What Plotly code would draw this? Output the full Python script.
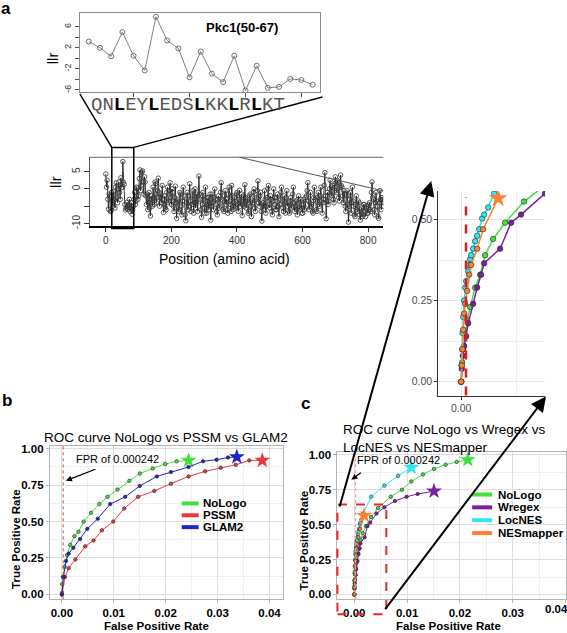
import plotly.graph_objects as go

W, H = 567, 633
FONT = "Liberation Sans, Arial, sans-serif"


def px(x):
    return x / W


def py(y):
    return 1 - y / H


# ---------------- data ----------------
# panel a inset: Pkc1 residues
inset_residues = list(range(46, 67))
inset_llr = [3.2, 2.0, 0.4, 5.0, 0.5, -2.3, 7.9, 3.4, 1.9, -3.6, 1.3,
             -2.9, -4.5, 0.5, -6.1, -1.4, -5.6, -5.4, -3.9, -4.1, -5.0]
sequence_letters = "QNLEYLEDSLKKLRLKT"
inset_xticks = [50, 55, 60, 65]
inset_yticks = [-6, -4, -2, 0, 2, 4, 6]
inset_yticktext = ["-6", "", "-2", "", "2", "", "6"]

# panel a main: llr along the protein (sampled every 2 aa)
main_positions = list(range(0, 848, 2))
main_llr = [
    4.3, 0.5, 2.5, -3.0, -5.8, -1.5, -2.0, -6.5, -6.3, -1.0, -3.5, -5.0, -0.8, -3.0, -5.5, 0.5, 1.8, -2.5, -4.0, 0.0,
    2.0, -1.0, -3.0, 3.2, 0.4, 0.5, 7.9, 1.9, 1.3, -4.5, -6.1, -5.6, -3.9, -5.0, -6.0, -4.5, -3.0, -6.5, -5.5, -4.0,
    -7.3, -6.0, -5.0, -3.0, -1.0, -4.5, -3.5, 0.5, 0.2, -3.0, -2.0, 3.0, 5.5, -0.5, 1.0, 4.8, 5.2, 2.0, -1.5, 3.5,
    2.0, -2.0, -4.5, -1.5, -6.0, -4.0, -1.0, -5.5, -7.8, -2.0, -3.0, -5.0, 0.5, -2.5, -4.5, 2.0, 1.5, -4.0, -2.5, -0.5,
    3.1, -1.0, -5.0, -2.5, -1.5, -4.0, 1.0, -3.0, -6.8, -4.5, -2.0, -5.5, -6.0, -1.0, 0.5, -4.0, -3.5, -0.5, 1.8, -2.5,
    -4.5, 0.0, -1.0, -5.0, -6.5, -2.5, 0.8, -4.0, -8.5, -3.5, -3.0, -6.5, -6.0, -1.0, -1.5, -5.0, -7.5, -3.5, 0.5, -2.0,
    -3.5, -7.5, -9.2, -4.0, -1.0, -6.0, -5.0, -2.0, 1.5, -3.5, -6.5, -4.5, -2.0, -0.5, -7.0, -4.0, 0.0, -5.5, -4.0, -1.5,
    -6.5, -2.0, 3.7, -1.5, -3.0, -6.0, -8.2, -4.5, -1.0, -3.0, -5.5, -7.0, 0.5, -2.5, -7.0, -4.5, -2.5, -6.0, -4.0, -1.5,
    -9.0, -5.0, -1.5, -4.0, -6.0, -2.5, 0.0, -3.0, -4.5, -6.5, -7.5, -3.0, -2.0, -5.5, -5.0, -1.0, 1.8, -3.0, -3.5, -6.0,
    -6.5, -2.0, -0.5, -4.5, -3.0, -6.0, -7.0, -1.5, 0.5, -3.5, -4.5, -6.5, 1.0, -2.0, -6.0, -4.0, -2.5, -5.5, -5.0, -1.5,
    -1.0, -4.5, -6.5, -3.0, -0.4, -5.0, -3.5, -1.5, -7.7, -4.5, -2.0, -5.0, 1.2, -2.5, -5.5, -3.5, -3.0, -7.0, -6.5, -2.0,
    -1.5, -5.0, -8.0, -3.5, -4.0, -1.0, 0.0, -5.5, -6.5, -3.0, -2.5, -0.5, 2.3, -4.0, -5.0, -2.0, -1.0, -6.5, -9.3, -4.5,
    -4.0, -6.0, -0.5, -3.0, -7.0, -5.0, -2.5, 0.0, 1.0, -4.5, -5.5, -2.0, -3.0, -6.5, -7.5, -3.5, 0.0, -2.5, -4.5, -6.0,
    -6.0, -2.5, -1.5, -5.0, -8.0, -4.5, -3.0, -1.0, 0.5, -3.5, -5.5, -6.5, -2.0, -4.0, -7.0, -2.5, -0.5, -5.0, -4.0, -6.5,
    -7.0, -3.5, -2.5, -5.5, -5.0, -1.5, 0.5, -4.0, -6.5, -5.0, -3.5, -6.0, -7.5, -3.0, -2.0, -5.5, -6.0, -3.0, -4.5, -7.0,
    -7.0, -4.5, -3.0, -6.0, -5.5, -2.5, -2.0, -0.5, 1.8, -3.5, -6.0, -4.0, -1.0, -5.0, -4.5, -6.5, -7.0, -2.5, 0.5, -3.0,
    -3.5, -6.0, -6.5, -2.5, -1.0, -4.5, -5.0, -2.0, 0.5, -3.5, -7.0, -4.0, -3.0, 1.0, 4.7, -2.0, -8.6, -3.5, -1.0, -4.5,
    -3.5, 0.0, 2.5, -1.5, -2.0, 0.5, 1.0, -3.0, -4.0, 1.5, 3.5, -0.5, -1.0, 2.5, 2.0, -2.5, -3.5, 0.5, 4.0, 1.0,
    0.5, -2.0, -4.0, -0.5, -1.5, -5.0, -6.5, -2.0, -0.5, -4.5, -9.6, -5.0, -3.0, -1.0, -7.0, -4.0, 0.5, -3.5, -5.0, -7.5,
    -8.0, -4.5, -2.0, -6.0, -6.5, -3.5, -4.0, -7.5, -9.0, -6.0, -5.5, -8.0, -7.5, -4.5, -4.5, -6.5, -8.0, -5.5, -5.0, -7.0,
    -7.0, -4.5, -4.0, -6.0, -6.5, -1.0, 2.0, -2.5, -3.0, -6.0, -7.5, -4.0, -1.0, -3.5, -5.0, -8.0, -8.5, -4.0, -0.5, -3.0,
    -6.0, -2.5, -3.0, -5.0,
]
main_xticks = [0, 200, 400, 600, 800]
main_yticks = [-10, -5, 0, 5]
main_yticktext = ["-10", "", "0", "5"]

# panel b ROC curves
nologo_b_fpr = [0, 0.00005, 0.0002, 0.0005, 0.001, 0.0016, 0.0024, 0.0032, 0.0042, 0.0056,
                0.0072, 0.0088, 0.0107, 0.013, 0.015, 0.0175, 0.0199, 0.0221, 0.0244]
nologo_b_tpr = [0.01, 0.07, 0.12, 0.19, 0.27, 0.34, 0.40, 0.43, 0.50, 0.56,
                0.62, 0.67, 0.72, 0.78, 0.83, 0.865, 0.895, 0.914, 0.92]
pssm_b_fpr = [0, 0.0006, 0.0013, 0.0026, 0.0045, 0.0061, 0.0077, 0.0099, 0.012, 0.0147,
              0.0178, 0.021, 0.0244, 0.0276, 0.0306, 0.0335, 0.0361, 0.0386]
pssm_b_tpr = [0, 0.12, 0.18, 0.24, 0.33, 0.37, 0.44, 0.50, 0.59, 0.67,
              0.71, 0.76, 0.81, 0.845, 0.87, 0.89, 0.92, 0.92]
glam2_b_fpr = [0, 0.0003, 0.0008, 0.0013, 0.0022, 0.0035, 0.0049, 0.0069, 0.0093, 0.0122,
               0.015, 0.0183, 0.021, 0.0244, 0.0272, 0.0298, 0.032, 0.0337]
glam2_b_tpr = [0, 0.12, 0.23, 0.28, 0.32, 0.38, 0.45, 0.52, 0.62, 0.67,
               0.745, 0.81, 0.84, 0.875, 0.914, 0.925, 0.94, 0.944]

# panel c ROC curves (also used for the zoomed view)
nologo_c_fpr = [0, 0.00005, 0.0001, 0.0002, 0.0003, 0.00045, 0.0007, 0.00095, 0.0012, 0.0016,
                0.0022, 0.00315, 0.0045, 0.0069, 0.009, 0.0108, 0.013, 0.0151, 0.0173, 0.0194, 0.0215]
nologo_c_tpr = [0, 0.06, 0.10, 0.14, 0.19, 0.23, 0.29, 0.33, 0.39, 0.44,
                0.49, 0.555, 0.62, 0.70, 0.75, 0.81, 0.86, 0.90, 0.93, 0.95, 0.965]
wregex_c_fpr = [0, 0.00003, 0.00008, 0.00015, 0.00025, 0.00035, 0.0006, 0.0008, 0.001, 0.00115,
                0.00195, 0.0025, 0.003, 0.0042, 0.0057, 0.0077, 0.0099, 0.012, 0.0151]
wregex_c_tpr = [0, 0.04, 0.08, 0.11, 0.14, 0.18, 0.24, 0.29, 0.33, 0.365,
                0.41, 0.49, 0.515, 0.58, 0.625, 0.67, 0.70, 0.72, 0.74]
locnes_c_fpr = [0, 0.00002, 0.00005, 0.00007, 0.0001, 0.00015, 0.0002, 0.00025, 0.00035, 0.0004,
                0.00045, 0.0005, 0.0006, 0.0007, 0.0008, 0.0009, 0.00105, 0.00115, 0.00135, 0.00165,
                0.0032, 0.0057, 0.0083, 0.0108]
locnes_c_tpr = [0, 0.05, 0.10, 0.15, 0.20, 0.25, 0.29, 0.31, 0.34, 0.36,
                0.378, 0.39, 0.41, 0.433, 0.45, 0.47, 0.503, 0.515, 0.537, 0.58,
                0.70, 0.78, 0.85, 0.91]
nesmapper_c_fpr = [0, 0.00003, 0.00006, 0.0001, 0.00015, 0.0002, 0.0003, 0.0004, 0.0005, 0.0008,
                   0.0011, 0.00185]
nesmapper_c_tpr = [0, 0.05, 0.10, 0.16, 0.21, 0.24, 0.28, 0.33, 0.36, 0.41,
                   0.47, 0.565]

fpr_cutoff = 0.000242
roc_xticks = [0, 0.01, 0.02, 0.03, 0.04]
roc_xticktext = ["0.00", "0.01", "0.02", "0.03", "0.04"]
roc_yticks = [0, 0.25, 0.5, 0.75, 1.0]
roc_yticktext = ["0.00", "0.25", "0.50", "0.75", "1.00"]

GREEN = "#3fe03f"
RED = "#e8383d"
BLUE = "#2222cc"
PURPLE = "#7b1fa2"
CYAN = "#2ee6f0"
ORANGE = "#ff8030"

fig = go.Figure()

# ---- panel a inset
fig.add_trace(go.Scatter(
    x=inset_residues, y=inset_llr, xaxis="x", yaxis="y", mode="lines+markers",
    line=dict(color="#808080", width=1),
    marker=dict(symbol="circle-open", size=5, color="#707070", line=dict(width=1)),
))

# ---- panel a main
fig.add_trace(go.Scatter(
    x=main_positions, y=main_llr, xaxis="x2", yaxis="y2", mode="lines+markers",
    line=dict(color="#111111", width=0.8),
    marker=dict(symbol="circle-open", size=4.5, color="#333333", line=dict(width=0.8)),
))


def roc(fpr, tpr, color, xa, ya, msize=3.5, ssize=12, lw=1):
    fig.add_trace(go.Scatter(
        x=fpr, y=tpr, xaxis=xa, yaxis=ya, mode="lines+markers",
        line=dict(color=color, width=lw),
        marker=dict(size=msize, color=color, line=dict(color="#222222", width=0.6)),
    ))
    fig.add_trace(go.Scatter(
        x=[fpr[-1]], y=[tpr[-1]], xaxis=xa, yaxis=ya, mode="markers",
        marker=dict(symbol="star", size=ssize, color=color, line=dict(width=0)),
    ))


# ---- panel b
roc(nologo_b_fpr, nologo_b_tpr, GREEN, "x3", "y3")
roc(pssm_b_fpr, pssm_b_tpr, RED, "x3", "y3")
roc(glam2_b_fpr, glam2_b_tpr, BLUE, "x3", "y3")

# ---- panel c
roc(nologo_c_fpr, nologo_c_tpr, GREEN, "x4", "y4")
roc(wregex_c_fpr, wregex_c_tpr, PURPLE, "x4", "y4")
roc(locnes_c_fpr, locnes_c_tpr, CYAN, "x4", "y4")
roc(nesmapper_c_fpr, nesmapper_c_tpr, ORANGE, "x4", "y4")

# ---- zoomed view of panel c
roc(nologo_c_fpr, nologo_c_tpr, GREEN, "x5", "y5", msize=5.5, ssize=14, lw=1.5)
roc(wregex_c_fpr, wregex_c_tpr, PURPLE, "x5", "y5", msize=5.5, ssize=14, lw=1.5)
roc(locnes_c_fpr, locnes_c_tpr, CYAN, "x5", "y5", msize=5.5, ssize=14, lw=1.5)
roc(nesmapper_c_fpr, nesmapper_c_tpr, ORANGE, "x5", "y5", msize=5.5, ssize=14, lw=1.5)

tick_gray = dict(family=FONT, size=10, color="#333333")
roc_tick_font = dict(family=FONT, size=11.5, color="black", weight="bold")

roc_x = dict(showline=True, mirror=True, linecolor="#b3b3b3", linewidth=1,
             showgrid=True, gridcolor="#dedede", gridwidth=1, zeroline=False,
             ticks="outside", ticklen=3, tickcolor="#b3b3b3",
             tickvals=roc_xticks, tickfont=roc_tick_font,
             minor=dict(showgrid=True, gridcolor="#efefef", dtick=0.005, tick0=0))
roc_y = dict(showline=True, mirror=True, linecolor="#b3b3b3", linewidth=1,
             showgrid=True, gridcolor="#dedede", gridwidth=1, zeroline=False,
             ticks="outside", ticklen=3, tickcolor="#b3b3b3",
             tickvals=roc_yticks, ticktext=roc_yticktext, tickfont=roc_tick_font,
             minor=dict(showgrid=True, gridcolor="#efefef", dtick=0.125, tick0=0))

fig.update_layout(
    width=W, height=H, margin=dict(l=0, r=0, t=0, b=0),
    paper_bgcolor="white", plot_bgcolor="rgba(0,0,0,0)", showlegend=False,
    font=dict(family=FONT, color="black"),
    xaxis=dict(domain=[px(80), px(321)], range=[45.2, 66.7], anchor="y",
               showline=True, mirror=True, linecolor="#8c8c8c", linewidth=1,
               showgrid=False, zeroline=False, ticks="outside", ticklen=4, tickcolor="#555555",
               tickvals=inset_xticks, showticklabels=False),
    yaxis=dict(domain=[py(90), py(10)], range=[-6.38, 8.63], anchor="x",
               showline=True, mirror=True, linecolor="#8c8c8c", linewidth=1,
               showgrid=False, zeroline=False, ticks="outside", ticklen=4, tickcolor="#555555",
               tickvals=inset_yticks, ticktext=inset_yticktext, tickangle=-90,
               tickfont=dict(family=FONT, size=9, color="#333333")),
    xaxis2=dict(domain=[px(90), px(384)], range=[-48.7, 846.3], anchor="y2",
                showline=True, linecolor="black", linewidth=1.6,
                showgrid=False, zeroline=False, ticks="outside", ticklen=5, tickcolor="#333333",
                tickvals=main_xticks, tickfont=tick_gray),
    yaxis2=dict(domain=[py(225), py(156)], range=[-10.57, 9.14], anchor="x2",
                showline=True, linecolor="#555555", linewidth=1,
                showgrid=False, zeroline=False, ticks="outside", ticklen=5, tickcolor="#333333",
                tickvals=main_yticks, ticktext=main_yticktext, tickangle=-90, tickfont=tick_gray),
    xaxis3=dict(domain=[px(50), px(283)], range=[-0.00231, 0.0425], anchor="y3",
                ticktext=roc_xticktext, **roc_x),
    yaxis3=dict(domain=[py(603), py(448)], range=[-0.034, 1.0187], anchor="x3", **roc_y),
    xaxis4=dict(domain=[px(338), 1.0], range=[-0.0032, 0.0401], anchor="y4",
                ticktext=["0.00", "0.01", "0.02", "0.03", ""], **roc_x),
    yaxis4=dict(domain=[py(603), py(454)], range=[-0.035, 1.021], anchor="x4", **roc_y),
    xaxis5=dict(domain=[px(439), px(546)], range=[-0.00115, 0.0042], anchor="y5",
                showline=True, linecolor="#333333", linewidth=1, zeroline=False,
                showgrid=True, gridcolor="#e6e6e6", ticks="outside", ticklen=3, tickcolor="#333333",
                tickvals=[0], ticktext=["0.00"],
                tickfont=dict(family=FONT, size=10.5, color="#4d4d4d"),
                minor=dict(showgrid=True, gridcolor="#eeeeee", tickvals=[0.00275])),
    yaxis5=dict(domain=[py(397), py(190)], range=[-0.0427, 0.588], anchor="x5",
                showline=True, linecolor="#333333", linewidth=1, zeroline=False,
                showgrid=True, gridcolor="#e6e6e6", ticks="outside", ticklen=3, tickcolor="#333333",
                tickvals=[0, 0.25, 0.5], ticktext=["0.00", "0.25", "0.50"],
                tickfont=dict(family=FONT, size=10.5, color="#4d4d4d"),
                minor=dict(showgrid=True, gridcolor="#eeeeee", tickvals=[0.125, 0.375])),
)

shapes = []


def pline(x0, y0, x1, y1, color="black", width=1.5, dash="solid"):
    shapes.append(dict(type="line", xref="paper", yref="paper",
                       x0=px(x0), y0=py(y0), x1=px(x1), y1=py(y1),
                       line=dict(color=color, width=width, dash=dash)))


# panel a decorations
pline(90, 156, 384, 156, color="#666666", width=1)        # top frame of main plot
pline(240, 156, 384, 190, color="#555555", width=1)       # thin diagonal line
pline(80, 92, 112, 146)                                   # zoom lines
pline(323, 95, 134, 146)
shapes.append(dict(type="rect", xref="paper", yref="paper",
                   x0=px(112), x1=px(134), y0=py(228), y1=py(146),
                   line=dict(color="black", width=1.5)))

# FPR cut-off lines
shapes.append(dict(type="line", xref="x3", yref="y3 domain", x0=fpr_cutoff, x1=fpr_cutoff,
                   y0=0, y1=1, line=dict(color=RED, width=1, dash="dot")))
shapes.append(dict(type="line", xref="x4", yref="y4 domain", x0=fpr_cutoff, x1=fpr_cutoff,
                   y0=0, y1=1, line=dict(color="#f29aa0", width=1.2, dash="dot")))
shapes.append(dict(type="line", xref="x5", yref="y5 domain", x0=fpr_cutoff, x1=fpr_cutoff,
                   y0=0, y1=0.97, line=dict(color="#e31a1c", width=2.5, dash="dash")))

# red dashed zoom box in panel c
shapes.append(dict(type="rect", xref="paper", yref="paper",
                   x0=px(338), x1=px(387), y0=py(618), y1=py(507),
                   line=dict(color="#e8262b", width=2, dash="dash")))

# legends
for yy, col in zip([506, 518, 530], [GREEN, RED, BLUE]):
    pline(182, yy, 199, yy, color=col, width=4)
for yy, col in zip([497, 510, 523, 536], [GREEN, PURPLE, CYAN, ORANGE]):
    pline(473, yy, 493, yy, color=col, width=4)

fig.update_layout(shapes=shapes)

ann = []


def text(x, y, s, size=12, bold=False, color="black", angle=0, xanchor="center",
         family=FONT, align="center"):
    ann.append(dict(x=px(x), y=py(y), xref="paper", yref="paper", text=s, showarrow=False,
                    xanchor=xanchor, yanchor="middle", textangle=angle, borderpad=0,
                    align=align,
                    font=dict(family=family, size=size, color=color,
                              weight="bold" if bold else "normal")))


def arrow(tx, ty, sx, sy, width=2, size=1.3, head=2):
    ann.append(dict(x=px(tx), y=py(ty), xref="paper", yref="paper", text="",
                    showarrow=True, ax=sx - tx, ay=sy - ty, arrowhead=head,
                    arrowsize=size, arrowwidth=width, arrowcolor="black", standoff=0))


# panel labels
text(6, 6, "a", size=17, bold=True)
text(7, 402, "b", size=17, bold=True)
text(306, 405, "c", size=17, bold=True)

# panel a texts
text(242, 25, "Pkc1(50-67)", size=13, bold=True)
seq_html = "".join("<b><span style='color:black'>L</span></b>" if ch == "L" else ch
                   for ch in sequence_letters)
text(188, 103, seq_html, size=19, color="#555555", family="Liberation Mono, Courier New, monospace")
text(52, 56, "llr", size=15, angle=-90)
text(56, 181, "llr", size=15, angle=-90)
text(225, 259, "Position (amino acid)", size=14)

# panel b texts
text(166, 439, "ROC curve NoLogo vs PSSM vs GLAM2", size=13.5)
text(16, 542, "True Positive Rate", size=11.5, bold=True, angle=-90)
text(157, 630, "False Positive Rate", size=11.5, bold=True)
text(118, 461, "FPR of 0.000242", size=11)
arrow(66, 483, 97, 471, width=1.2, size=1, head=2)
for yy, s in zip([506, 518, 530], ["NoLogo", "PSSM", "GLAM2"]):
    text(202, yy, s, size=11.5, bold=True, xanchor="left")

# panel c texts
text(343, 440.5, "ROC curve NoLogo vs Wregex vs<br>LocNES vs NESmapper", size=13.5,
     xanchor="left", align="left")
text(305, 543, "True Positive Rate", size=11.5, bold=True, angle=-90)
text(449, 630, "False Positive Rate", size=11.5, bold=True)
text(557, 613, "0.04", size=11.5, bold=True)
text(399, 462, "FPR of 0.000242", size=11)
arrow(352, 482, 363, 474, width=1.2, size=1, head=2)
for yy, s in zip([497, 510, 523, 536], ["NoLogo", "Wregex", "LocNES", "NESmapper"]):
    text(498, yy, s, size=11.5, bold=True, xanchor="left")

# big arrows to the zoomed view
arrow(432, 180, 340, 507, width=2, size=1.5, head=2)
arrow(547, 398, 385, 612, width=2, size=1.5, head=2)

fig.update_layout(annotations=ann)

fig.write_html("out.html", config={"displayModeBar": False},
               post_script="document.body.style.margin='0';document.body.style.overflow='hidden';")
